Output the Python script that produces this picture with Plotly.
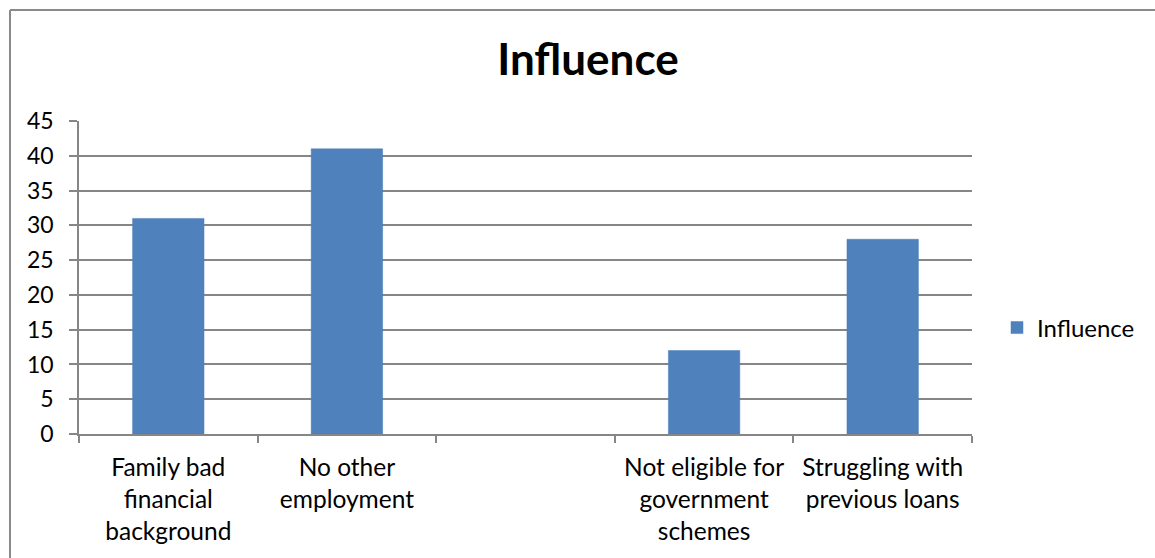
import plotly.graph_objects as go

categories = ["Family bad<br>financial<br>background", "No other<br>employment", " ",
              "Not eligible for<br>government<br>schemes", "Struggling with<br>previous loans"]
values = [31, 41, None, 12, 28]
series_name = "Influence"
y_ticks = [0, 5, 10, 15, 20, 25, 30, 35, 40, 45]

W, H = 1155, 558
L, R, T, B = 79, 972, 121, 434
pw, ph = R - L, B - T

FONT = "Lato"
GRID = "#868686"

fig = go.Figure()
fig.add_trace(go.Bar(
    x=categories, y=values, name=series_name,
    marker=dict(color="#4F81BD", line=dict(color="#4A7EBB", width=0.5)),
    showlegend=True,
))

def px_x(x):
    return (x - L) / pw

def px_y(y):
    return (B - y) / ph

fig.update_layout(
    width=W, height=H,
    margin=dict(l=L, r=W - R, t=T, b=H - B, autoexpand=False),
    paper_bgcolor="white", plot_bgcolor="white",
    font=dict(family=FONT, size=24, color="#000000"),
    bargap=0.6,
    title=dict(text="<b>Influence</b>", x=588 / W, xanchor="center",
               y=1 - 60 / H, yanchor="middle",
               font=dict(family=FONT, size=44, color="#000000")),
    legend=dict(x=px_x(997), xanchor="left", y=px_y(328), yanchor="middle",
                font=dict(family=FONT, size=24), bgcolor="rgba(0,0,0,0)",
                itemwidth=30),
    xaxis=dict(type="category", showline=True, linecolor=GRID, linewidth=1.5,
               ticks="outside", tickson="boundaries", ticklen=7, tickcolor=GRID,
               tickwidth=1.5, showgrid=False, ticklabelstandoff=11,
               tickfont=dict(family=FONT, size=24.5)),
    yaxis=dict(range=[0, 45], tickvals=y_ticks, showline=True, linecolor=GRID,
               linewidth=1.5, ticks="outside", ticklen=8, tickcolor=GRID,
               tickwidth=1.5, showgrid=True, gridcolor=GRID, gridwidth=1.5,
               zeroline=False, ticklabelstandoff=11,
               tickfont=dict(family=FONT, size=23)),
    shapes=[
        dict(type="line", xref="paper", yref="paper",
             x0=px_x(10), y0=px_y(10), x1=px_x(1160), y1=px_y(10),
             line=dict(color="#8a8a8a", width=2)),
        dict(type="line", xref="paper", yref="paper",
             x0=px_x(10), y0=px_y(10), x1=px_x(10), y1=px_y(565),
             line=dict(color="#8a8a8a", width=2)),
    ],
)

fig.write_html("out.html")
